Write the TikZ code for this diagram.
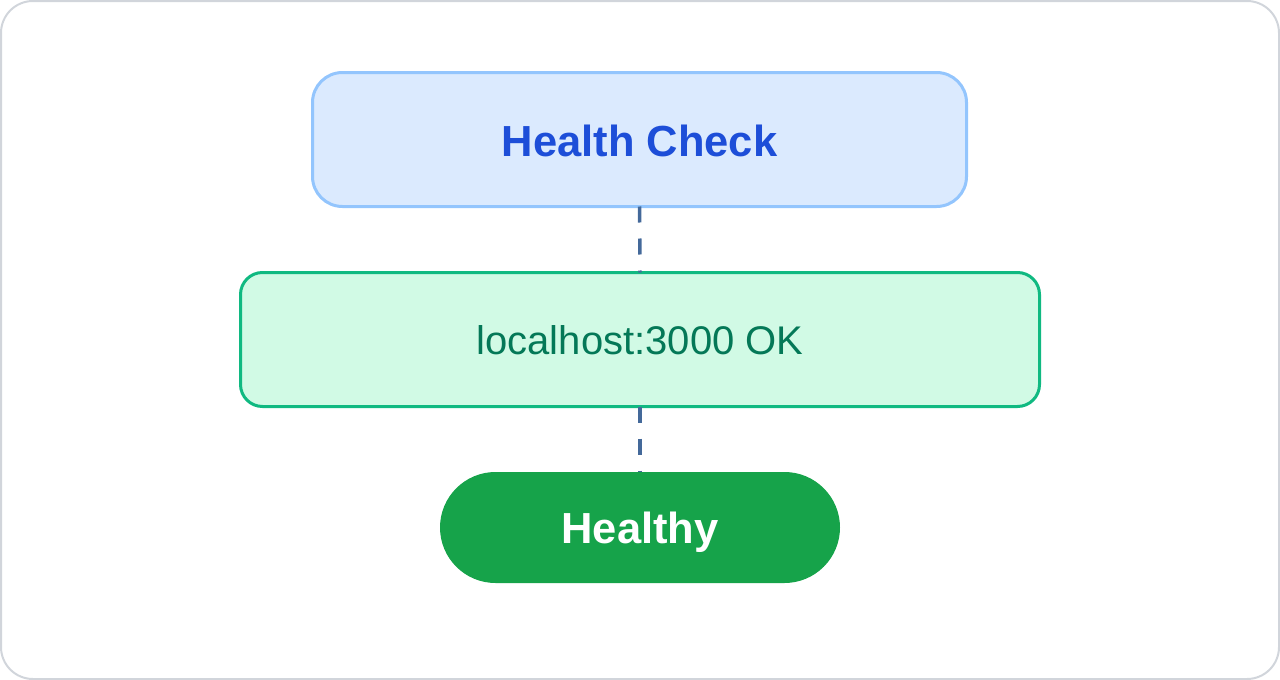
\documentclass[tikz,border=0pt]{standalone}
\usepackage{fontspec}
\setmainfont{Liberation Sans}
\definecolor{outerline}{HTML}{D1D5DB}
\definecolor{hcfill}{HTML}{DBEAFE}
\definecolor{hcline}{HTML}{93C5FD}
\definecolor{hctext}{HTML}{1D4ED8}
\definecolor{lhfill}{HTML}{D1FAE5}
\definecolor{lhline}{HTML}{10B981}
\definecolor{lhtext}{HTML}{047857}
\definecolor{hyfill}{HTML}{16A34A}
\definecolor{dashcol}{HTML}{44699A}
\tikzset{
  boxbase/.style={rectangle, inner sep=0pt, outer sep=0pt},
  hcbox/.style={boxbase, draw=hcline, fill=hcfill, line width=3pt, rounded corners=30pt,
    minimum width=654pt, minimum height=134pt, text=hctext,
    text height=34.1pt, text depth=0pt,
    font=\fontsize{43.5}{52}\selectfont\bfseries},
  lhbox/.style={boxbase, draw=lhline, fill=lhfill, line width=3pt, rounded corners=22pt,
    minimum width=799pt, minimum height=134pt, text=lhtext,
    text height=30.6pt, text depth=0pt,
    font=\fontsize{40}{48}\selectfont},
  hybox/.style={boxbase, fill=hyfill, rounded corners=55.5pt,
    minimum width=400pt, minimum height=111pt, text=white,
    text height=32.1pt, text depth=0pt,
    font=\fontsize{43.5}{52}\selectfont\bfseries},
  dashline/.style={draw=dashcol, line width=3.5pt, dash pattern=on 16pt off 16pt},
}
\begin{document}
\begin{tikzpicture}[x=1pt,y=-1pt]
\useasboundingbox (0,0) rectangle (1280,680);
\draw[outerline, line width=2pt, rounded corners=32pt] (1,1) rectangle (1279,679);
\node[hcbox] (hc) at (639.5,139.5) {Health Check};
\node[lhbox] (lh) at (640,339.5) {localhost:3000 OK};
\node[hybox] (hy) at (640,527.5) {Healthy};
\draw[dashline] (hc.south) -- (lh.north);
\draw[dashline] (lh.south) -- (hy.north);
\end{tikzpicture}
\end{document}
